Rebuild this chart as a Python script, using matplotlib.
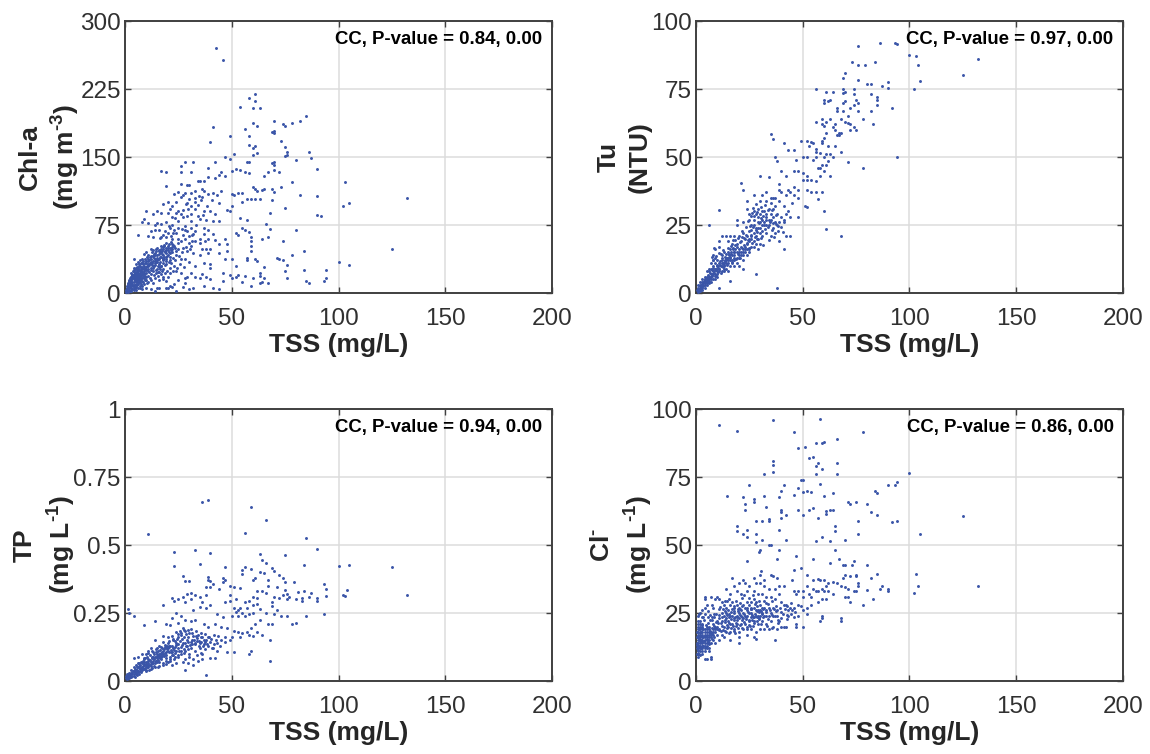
import matplotlib
matplotlib.use("Agg")
import matplotlib.pyplot as plt

plt.rcParams["font.family"] = ["Liberation Sans", "DejaVu Sans"]
plt.rcParams["mathtext.fontset"] = "custom"
plt.rcParams["mathtext.rm"] = "Liberation Sans:bold"
plt.rcParams["mathtext.default"] = "rm"

x_ticks = [0, 50, 100, 150, 200]

chl_ticks = [0, 75, 150, 225, 300]
chl_points = [
    (42.5,270),(46,257),(61,220),(58,215),(61,212),(54,205),(60,204),(63,204),(85,195),(70,190),(82,190),(78,187),
    (74,186),(75,184),(60,188),(62,184),(56,181),(41,183),(69,178),(70,179),(70,176),(49,173),(58,173),(73,168),
    (40,167),(58,163),(60,160),(61,162),(75,161),(86,156),(76,156),(76,152),(75,151),(62,154),(60,152),(51,153),
    (47,150),(49,148),(87,149),(80,147),(70,144),(69,143),(70,141),(57,145),(58,145),(42,144),(32,144),(28,145),
    (26,140),(39,138),(90,137),(52,137),(50,135),(54,136),(56,133),(58,132),(70,136),(72,133),(67,133),(65,129),
    (26,134),(31,134),(17,135),(19,134),(45,133),(47,129),(44,130),(42,127),(39,128),(37,124),(35,124),(34,123),
    (30,119),(29,119),(19,118),(26,120),(103,122),(78,122),(73,117),(69,115),(64,114),(61,115),(60,117),(62,113),
    (65,115),(70,111),(53,110),(55,110),(51,108),(50,109),(57,104),(59,104),(61,104),(63,104),(82,108),(90,107),
    (69,103),(132,105),(105,99),(102,96),(75,94),(90,86),(92,85),(80,70),(68,88),(84,46),(125,48),(100,34),(105,31),
    (94,25),(84,25),(93,13),(94,16),(85,13),(86,11),(78,42),(74,57),(71,39),(72,37),(74,36),(76,31),(75,24),(76,17),
    (68,71),(66,76),(67,62),(64,60),(58,67),(59,62),(59,57),(59,52),(59,46),(61,38),(62,35),(57,39),(57,36),(65,29),
    (63,22),(63,19),(64,12),(63,11),(65,16),(67,11),(59,8),(60,17),(52,18),(52,30),(50,38),(48,54),(48,46),(47,60),
    (52,66),(53,64),(55,72),(56,70),(57,81),(54,83),(49,91),(48,92),(55,100),(50,96),(44,99),(45,112),(43,108),
    (41,110),(39,109),(37,112),(36,106),(36,115),(33,105),(33,113),(31,110),(30,104),(28,110),(27,108),(26,106),
    (25,111),(24,100),(23,109),(22,96),(20,100),(21,93),(18,98),(34,97),(33,93),(31,96),(29,99),(27,92),(25,90),
    (24,88),(22,84),(20,88),(17,88),(15,90),(13,87),(10,90),(9,82),(11,77),(8,78),(6,64),(15,77),(14,75),(17,76),
    (16,70),(14,69),(12,68),(13,62),(11,63),(19,78),(22,75),(25,79),(27,84),(29,85),(31,87),(34,85),(35,82),(37,91),
    (40,91),(42,87),(38,80),(41,79),(44,79),(37,72),(39,70),(41,65),(39,60),(37,65),(35,60),(33,68),(32,65),(31,72),
    (28,74),(29,68),(27,64),(25,72),(24,66),(23,70),(21,72),(20,66),(19,62),(18,64),(17,62),(22,60),(25,60),(28,60),
    (30,55),(31,52),(33,57),(35,55),(36,48),(38,49),(40,48),(42,58),(44,54),(47,38),(44,44),(39,44),(35,42),(32,44),
    (29,46),(27,50),(25,48),(23,52),(22,54),(21,50),(20,52),(19,50),(18,48),(17,52),(16,47),(15,50),(14,44),(13,47),
    (12,48),(11,42),(10,45),(9,43),(8,38),(20,47),(21,44),(22,45),(19,44),(18,42),(17,40),(16,43),(15,39),(14,38),
    (13,41),(12,37),(11,35),(10,33),(9,30),(8,33),(7,30),(6,28),(5,26),(4,38),(5,32),(6,34),(7,36),(24,42),(26,38),
    (28,37),(30,34),(33,30),(37,33),(40,32),(40,28),(38,18),(40,15),(33,18),(35,16),(36,21),(31,22),(29,18),(28,16),
    (26,22),(24,24),(25,14),(23,10),(21,8),(20,5),(22,7),(19,6),(27,7),(28,11),(30,4),(32,6),(37,8),(41,6),(44,4),
    (46,13),(46,22),(49,20),(50,17),(53,20),(55,12),(56,19),(23,30),(21,28),(19,32),(18,26),(17,30),(16,23),(15,27),
    (14,31),(13,24),(12,28),(11,26),(10,22),(9,24),(8,21),(7,19),(6,22),(16,14),(14,16),(13,11),(12,14),(11,12),
    (10,14),(9,10),(8,8),(7,12),(6,10),(5,7),(4,9),(15,6),(14,2),(12,4),(18,15),(20,18),(19,13),(24,2),(16,6),
    (1,2),(1,5),(1,8),(2,3),(2,6),(2,10),(2,14),(3,2),(3,5),(3,8),(3,11),(3,14),(3,18),(3,22),(4,3),(4,6),(4,12),(4,15),
    (4,18),(4,21),(4,24),(4,28),(5,3),(5,10),(5,13),(5,16),(5,19),(5,22),(6,5),(6,14),(6,17),(6,20),(6,25),(7,6),(7,15),
    (7,22),(7,25),(8,4),(8,13),(8,16),(8,26),(8,29),(9,17),(9,21),(9,27),(10,6),(10,18),(10,27),(11,19),(11,30),(12,21),
    (12,33),(13,30),(13,35),(14,35),(15,34),(16,37),(17,45),(18,37),(19,40),(20,42),(22,48),(0.5,1),(0.5,3),(1.5,1),
    (1.5,4),(1.5,7),(1.5,11),(2.5,2),(2.5,8),(2.5,12),(2.5,16),(3.5,4),(3.5,10),(3.5,16),(3.5,20),(4.5,5),(4.5,14),
    (4.5,20),(5.5,12),(5.5,18),(5.5,24),(6.5,16),(6.5,21),(7.5,17),(7.5,24),
]
chl_core = [
    (18.4,53.2),(19.3,55.7),(20.6,54.1),(21.4,56.3),(22.7,52.6),(17.6,50.4),(18.9,46.7),(20.2,49.3),(21.7,47.8),(23.4,49.1),
    (16.3,45.2),(17.2,42.6),(18.6,44.8),(19.7,41.3),(20.9,39.7),(15.2,41.8),(14.3,46.1),(13.4,43.2),(12.6,44.7),(11.7,39.4),
    (10.8,37.6),(9.6,35.8),(12.2,34.6),(13.7,38.3),(14.8,36.7),(16.6,34.2),(17.9,36.1),(19.2,35.4),(21.1,36.8),(22.6,38.7),
    (8.4,31.7),(9.3,32.8),(10.4,29.6),(11.3,31.4),(12.7,30.9),(13.9,32.7),(15.6,30.3),(6.7,29.4),(7.3,27.2),(8.8,28.1),
    (5.2,27.6),(5.7,29.2),(6.3,26.3),(7.8,23.4),(6.8,24.1),(5.4,23.3),(4.3,25.7),(3.7,23.8),(4.8,22.3),(6.2,21.3),
    (3.2,19.6),(4.2,19.2),(5.3,20.4),(2.8,17.7),(3.6,17.4),(4.6,17.2),(5.8,15.2),(6.6,18.6),(7.2,14.1),(7.7,20.3),
    (8.3,18.4),(8.7,22.6),(9.4,19.3),(9.8,25.4),(10.6,24.3),(11.4,22.8),(12.4,25.6),(13.2,27.3),(14.6,25.8),(15.7,28.7),
    (1.2,3.4),(1.7,5.6),(2.2,7.8),(2.7,9.7),(3.3,12.6),(1.3,9.4),(2.3,11.7),(0.8,4.6),(1.8,12.8),(2.9,15.3),
    (3.8,7.4),(4.7,8.6),(5.6,8.4),(6.4,12.3),(7.4,10.4),(6.9,8.2),(8.2,11.6),(9.2,14.7),(10.2,11.2),(11.6,16.4),
    (15.3,18.7),(16.8,20.6),(17.7,17.4),(18.8,22.3),(19.6,24.7),(21.3,21.8),(22.4,24.6),(24.3,27.4),(25.7,31.6),(27.4,28.3),
    (23.6,36.4),(25.3,41.2),(26.8,44.7),(28.6,50.3),(30.4,48.6),(24.7,55.3),(26.2,57.4),(21.6,62.7),(18.7,68.4),(16.4,60.2),
    (23.2,82.6),(26.4,87.3),(29.3,92.4),(32.6,100.7),(34.7,107.3),(38.3,96.2),(30.7,79.6),(28.2,69.3),(33.4,74.8),(36.3,86.4),
    (31.4,57.7),(30.2,62.6),(31.6,64.4),(26.6,70.7),(22.3,66.4),(20.4,73.6),(28.7,98.3),(35.4,102.6),(40.6,102.3),(37.6,57.6),
    (14.4,48.6),(15.7,46.3),(16.7,48.7),(17.3,46.4),(18.2,51.4),(19.4,47.6),(20.8,45.6),(22.2,50.4),(23.7,46.3),(13.3,40.4),
    (14.2,41.4),(15.4,37.6),(16.2,39.6),(17.7,38.4),(18.3,39.7),(19.4,37.4),(20.4,34.4),(21.7,33.6),(10.2,39.4),(11.2,36.7),
    (12.3,40.6),(9.2,37.4),(8.6,35.4),(7.7,33.4),(6.6,31.7),(9.7,28.3),(10.8,31.7),(11.8,33.2),(12.8,32.6),(13.6,29.4),
    (14.7,33.7),(15.8,32.4),(16.8,29.6),(17.6,32.6),(18.6,30.4),(13.7,19.6),(14.3,22.6),(15.6,23.7),(16.4,26.6),(17.4,24.4),
]

tu_ticks = [0, 25, 50, 75, 100]
tu_points = [
    (76,91),(86,92),(93,92),(94,91.5),(100,87.5),(103,87),(132,86),(73,85),(76,84),(79,84),(84,85),(104,84),(70,81),
    (69,79),(76,78.5),(105,78),(80,77),(82,77),(90,77.5),(87,76),(90,75.5),(125,80),(102,75),(56,75),(61,74),(64,74),
    (69,75),(74,75),(70,74),(69,73.5),(74,73),(82,73),(85,72),(85,71),(85,69),(75,71),(76,70),(70,70.5),(69,70),(60,71),
    (60,70),(63,71),(62,70.5),(74,69),(92,68),(66,68),(66,67),(72,68),(69,67),(76,67),(82,67),(71,65),(68,64),(59,64),
    (63,64),(83,62),(78,64),(56,63),(59,62),(61,63),(60,61.5),(64,61),(65,62),(70,63),(71,62.5),(72,62),(74,61),(75,60),
    (72,60),(65,60),(67,59),(68,59),(67,58),(66,58),(35,58.5),(36,56.5),(61,59),(60,57),(49,56),(52,56),(54,55.5),(55,55),
    (59,56),(62,54),(65,54),(59,55),(41,55),(53,54),(56,53),(46,52.5),(43,52.5),(56,52),(58,51.5),(61,51),(63,51),(94,50),
    (37,50),(38,48.5),(47,49),(50,50),(52,50),(55,49),(56,50),(60,50),(62,48.5),(64,50),(68,52),(71,48),(78,46),(40,45),
    (46,45),(48,45),(50,44),(52,43),(57,46),(58,46),(59,47),(61,47),(60,45),(63,43),(58,43),(50,41.5),(52,41.5),(54,41.5),
    (56,41),(21,40.5),(22,38),(36,35),(30,43),(34,42.5),(42,43),(39,40),(39,38),(43,38),(46,39),(48,38),(52,38),(54,37),
    (56,37),(59,37),(57,34.5),(51,32),(52,31.5),(60,30),(61,23.5),(68,21),(38,2),(28,7),(11,30.5),(6,25),(27,36),(31,36),
    (33,37),(35,35),(37,35),(40,37),(42,36),(44,37),(46,36),(48,35),(45,33),(43,30),(41,32),(39,34),(37,32),(35,33),(33,34),
    (30,34),(29,31),(24,34),(24,31),(25,29),(27,30),(28,29),(30,29),(32,30),(34,31),(36,31),(38,29),(40,28),(42,29),(44,28),
    (48,28),(19,27),(19,25),(22,26),(25,27),(26,25),(27,27),(29,26),(31,27),(33,28),(35,27),(37,26),(39,26),(41,26),(26,23),
    (28,24),(30,24),(32,25),(34,25),(36,24),(38,25),(28,21),(29,20),(31,21),(33,22),(35,21),(37,22),(44,21),(42,21),(39,19),
    (41,16),(25,19),(26,20),(27,19),(28,18),(30,18),(22,22),(21,19),(23,20),(24,21),(20,21),(18,21),(16,21),(14,21),(12,21),
    (11,19),(11,17),(9,16),(8,14),(9,13),(8,12),(15,19),(17,18),(19,18),(21,17),(23,16),(25,16),(27,17),(29,16),(24,14),(22,15),
    (20,15),(18,15),(16,16),(15,15),(13,15),(12,14),(14,13),(16,13),(18,13),(20,13),(22,12),(19,11),(17,11),(15,11),(13,10),
    (12,12),(11,11),(10,10),(9,9),(8,8),(10,12),(9,11),(7,9),(8,10),(6,8),(7,7),(6,6),(5,6),(5,5),(4,5),(4,4),(3,4),(3,3),(2,3),
    (2,2),(1,2),(1,1),(1,0.5),(2,1),(3,2),(4,3),(5,4),(6,5),(7,6),(8,7),(9,7),(10,8),(11,9),(12,10),(13,11),(14,11),(15,12),(16,12),
    (17,14),(18,14),(19,15),(20,16),(21,14),(22,16),(23,15),(24,16),(25,15),(26,17),(11,8),(10,6),(13,8),(14,9),(15,8),(16,10),
    (18,10),(20,10),(22,9),(16,4.5),(11,2),(1.5,1),(2.5,2),(3.5,3),(4.5,4),(5.5,5),(6.5,6),(7.5,7),(8.5,8),(9.5,9),(10.5,10),
    (11.5,10),(12.5,11),(13.5,12),(14.5,13),(15.5,14),(16.5,15),(17.5,16),(18.5,16),(0.5,1),(1,3),(2,4),(3,5),(4,6),(5,8),(6,9),
    (7,11),(8,12),(2,0.8),(3,1),(4,2),(5,3),(6,3.5),(7,4),(8,5),(9,5),(10,7),(12,8),(13,9),(14,12),(15,13),(17,12),(18,12),(19,13),
    (20,14),(21,15),(22,14),(23,17),(24,18),(25,20),(26,21),(27,22),(28,23),(29,24),(30,22),(31,25),(32,26),(33,25),(34,27),(35,29),
    (36,28),(30,26),(27,25),(29,28),(31,30),(33,29),
]
tu_core = [
    (26.3,29.4),(27.4,28.2),(28.7,29.7),(30.3,27.6),(29.4,25.8),(31.6,28.3),(32.8,26.7),(33.6,24.3),(34.7,26.2),(36.2,25.7),
    (37.4,25.3),(38.6,24.6),(35.4,23.2),(32.4,23.4),(30.7,22.8),(28.4,22.3),(26.7,24.2),(25.4,24.6),(24.6,22.7),(23.4,21.4),
    (22.6,20.3),(21.4,20.7),(20.4,18.7),(19.4,16.8),(18.4,17.6),(17.4,16.6),(16.4,14.4),(15.4,14.2),(14.4,12.6),(13.4,13.2),
    (12.4,12.7),(11.4,11.8),(10.4,9.3),(9.4,8.6),(8.4,7.4),(7.4,6.4),(6.4,5.4),(5.4,4.6),(4.4,3.6),(3.4,2.6),(2.4,1.4),(1.4,0.9),
    (24.4,19.6),(25.7,21.4),(26.4,18.4),(27.6,20.6),(28.8,19.7),(30.6,20.4),(21.6,16.4),(22.4,17.6),(23.7,18.4),(24.8,16.7),
    (18.7,12.6),(19.6,14.4),(20.7,12.7),(17.6,14.9),(16.7,11.4),(15.8,13.4),(14.7,10.4),(13.7,11.8),(12.7,9.6),(11.7,7.4),
    (10.7,8.7),(9.7,10.3),(8.7,6.3),(7.7,8.4),(6.7,7.3),(5.7,6.6),(4.7,5.4),(3.7,4.4),(2.7,3.3),(1.7,2.4),(0.8,0.7),(1.2,1.6),
    (2.2,2.6),(3.2,3.7),(4.2,4.6),(5.2,3.8),(6.2,4.4),(7.2,5.3),(8.2,9.2),(9.2,6.4),(10.2,7.6),(11.2,10.4),(12.2,11.2),(13.2,10.2),
    (14.2,14.4),(15.2,16.7),(16.2,17.4),(17.2,19.4),(18.2,19.6),(19.7,20.3),(21.7,22.8),(23.2,24.4),(24.3,26.6),(25.6,28.4),
    (26.8,31.3),(28.3,32.6),(30.4,31.7),(32.4,32.3),(33.8,30.6),(35.7,30.4),(37.7,28.7),(39.6,24.3),(41.4,26.7),(40.7,22.4),
    (38.4,22.7),(36.4,20.6),(34.3,19.6),(31.4,17.8),(9.4,13.7),(8.6,16.4),(7.6,13.4),(10.6,14.7),(11.6,14.4),(12.6,15.8),
]

tp_ticks = [0, 0.25, 0.5, 0.75, 1]
tp_labels = ["0", "0.25", "0.5", "0.75", "1"]
tp_points = [
    (39,0.667),(36,0.657),(59,0.638),(66,0.592),(11,0.542),(56,0.543),(85,0.525),(90,0.485),(33,0.48),(23,0.476),(40,0.47),
    (63,0.467),(75,0.465),(64,0.445),(66,0.435),(35,0.43),(84,0.428),(23,0.424),(47,0.42),(100,0.422),(105,0.426),(125,0.418),
    (56,0.418),(55,0.41),(59,0.412),(69,0.415),(70,0.405),(63,0.4),(65,0.398),(72,0.39),(55,0.395),(27,0.387),(39,0.383),(39,0.37),
    (40,0.368),(46,0.38),(47,0.372),(46,0.365),(61,0.38),(60,0.37),(67,0.37),(74,0.378),(75,0.365),(79,0.365),(28,0.367),(30,0.368),
    (93,0.358),(41,0.358),(49,0.35),(51,0.345),(54,0.342),(67,0.35),(71,0.345),(44,0.34),(38,0.345),(40,0.345),(94,0.338),(75,0.335),
    (81,0.327),(84,0.332),(87,0.325),(104,0.336),(102,0.318),(103,0.314),(132,0.317),(94,0.314),(29,0.32),(31,0.325),(33,0.315),(35,0.31),
    (38,0.315),(49,0.315),(62,0.33),(64,0.33),(66,0.325),(70,0.31),(74,0.315),(76,0.32),(77,0.31),(86,0.31),(90,0.305),(90,0.295),
    (83,0.305),(83,0.295),(80,0.3),(76,0.3),(72,0.305),(69,0.29),(60,0.31),(62,0.305),(56,0.29),(58,0.295),(52,0.3),(49,0.295),(47,0.29),
    (18,0.278),(23,0.295),(22,0.305),(25,0.3),(27,0.31),(28,0.29),(31,0.3),(36,0.29),(40,0.28),(35,0.272),(38,0.27),(1.5,0.265),(2,0.25),
    (4,0.24),(24,0.25),(26,0.24),(32,0.26),(43,0.245),(46,0.235),(51,0.27),(53,0.26),(54,0.27),(52,0.255),(55,0.25),(57,0.27),(60,0.28),
    (62,0.285),(63,0.265),(66,0.25),(60,0.25),(58,0.245),(56,0.24),(53,0.24),(50,0.24),(69,0.275),(71,0.26),(70,0.245),(73,0.24),(76,0.238),
    (80,0.215),(78,0.21),(85,0.24),(93,0.245),(22,0.23),(19,0.21),(14,0.22),(9,0.205),(21,0.205),(25,0.215),(28,0.225),(31,0.22),(33,0.225),
    (37,0.21),(39,0.2),(42,0.21),(45,0.2),(48,0.195),(51,0.185),(53,0.18),(55,0.175),(57,0.18),(59,0.195),(61,0.21),(63,0.225),(67,0.21),(69,0.21),
    (62,0.18),(64,0.17),(60,0.165),(58,0.17),(54,0.16),(50,0.16),(49,0.15),(47,0.16),(45,0.15),(68,0.15),(43,0.14),(40,0.145),(38,0.15),(36,0.16),
    (34,0.17),(32,0.165),(30,0.175),(28,0.185),(27,0.195),(26,0.175),(24,0.18),(22,0.165),(20,0.16),(18,0.165),(25,0.16),(29,0.15),(31,0.145),
    (33,0.135),(35,0.14),(37,0.135),(39,0.13),(41,0.12),(43,0.11),(48,0.105),(51,0.105),(59,0.11),(58,0.1),(68,0.075),(38,0.022),(28,0.04),(32,0.06),
    (34,0.075),(36,0.08),(40,0.085),(42,0.085),(30,0.09),(28,0.11),(26,0.125),(24,0.14),(22,0.13),(20,0.14),(18,0.145),(16,0.13),(14,0.15),(15,0.12),
    (12,0.12),(11,0.11),(10,0.1),(8,0.1),(4,0.085),(6,0.09),(9,0.08),(13,0.105),(14,0.09),(16,0.1),(18,0.11),(20,0.12),(22,0.105),(24,0.11),(26,0.1),
    (23,0.08),(21,0.09),(19,0.085),(17,0.09),(15,0.085),(13,0.075),(11,0.08),(10,0.07),(12,0.07),(14,0.065),(16,0.07),(18,0.065),(20,0.07),(22,0.06),
    (24,0.065),(27,0.07),(16,0.055),(14,0.05),(12,0.055),(10,0.055),(9,0.06),(8,0.065),(7,0.06),(6,0.065),(5,0.06),(4,0.05),(6,0.05),(7,0.045),(8,0.05),
    (9,0.045),(10,0.04),(11,0.05),(12,0.045),(5,0.04),(4,0.035),(3,0.04),(2,0.03),(3,0.025),(2,0.02),(1,0.015),(1,0.025),(4,0.025),(5,0.03),(6,0.035),
    (7,0.035),(8,0.04),(1,0.01),(2,0.012),(3,0.015),(0.5,0.01),(0.5,0.02),(1.5,0.02),(2.5,0.025),(3.5,0.03),(4.5,0.045),(5.5,0.05),(6.5,0.055),(7.5,0.07),
    (8.5,0.075),(9.5,0.085),(10.5,0.09),(11.5,0.095),(12.5,0.09),(13.5,0.1),(14.5,0.105),(15.5,0.11),(16.5,0.115),(17.5,0.12),(18.5,0.125),(19.5,0.13),
    (20.5,0.105),(21.5,0.115),(22.5,0.12),(23.5,0.125),(25,0.135),(27,0.14),(29,0.13),(31,0.12),(33,0.11),(35,0.12),(36,0.1),(25,0.09),(28,0.08),(30,0.1),
    (19,0.095),(17,0.1),(15,0.1),(13,0.09),(11,0.065),(9,0.07),(15,0.07),(17,0.08),(19,0.075),(21,0.08),(8.5,0.055),(10.5,0.06),(12.5,0.065),(14.5,0.075),
]
tp_core = [
    (27.4,0.187),(26.3,0.168),(25.6,0.183),(24.3,0.155),(23.2,0.147),(22.4,0.152),(21.3,0.128),(20.3,0.112),(19.3,0.106),(18.3,0.093),
    (17.3,0.092),(16.3,0.084),(15.3,0.077),(14.3,0.072),(13.3,0.067),(12.3,0.061),(11.3,0.058),(10.3,0.052),(9.3,0.049),(8.3,0.044),
    (7.3,0.04),(6.3,0.032),(5.3,0.027),(4.3,0.02),(3.3,0.018),(2.3,0.014),(1.3,0.012),(0.8,0.006),(1.8,0.026),(2.8,0.03),(3.8,0.037),
    (4.8,0.033),(5.8,0.042),(6.8,0.047),(7.8,0.053),(8.8,0.062),(9.8,0.064),(10.8,0.072),(11.8,0.077),(12.8,0.083),(13.8,0.082),(14.8,0.093),
    (15.8,0.088),(16.8,0.104),(17.8,0.098),(18.8,0.102),(19.8,0.118),(20.8,0.124),(21.8,0.097),(22.8,0.113),(23.8,0.132),(24.8,0.12),
    (25.8,0.148),(26.8,0.156),(27.8,0.163),(28.8,0.172),(29.7,0.186),(30.8,0.192),(32.4,0.152),(33.6,0.158),(34.6,0.148),(35.7,0.143),(36.8,0.152),
    (38.4,0.137),(39.4,0.162),(37.7,0.172),(35.4,0.178),(33.4,0.183),(31.4,0.178),(29.3,0.162),(28.3,0.138),(26.4,0.112),(24.6,0.096),(23.4,0.09),
    (21.3,0.072),(19.4,0.062),(17.6,0.058),(15.6,0.052),(13.7,0.055),(12.6,0.048),(11.4,0.042),(9.6,0.038),(7.7,0.032),(6.6,0.027),(5.6,0.021),
    (4.6,0.016),(6.7,0.068),(8.7,0.086),(10.7,0.104),(12.7,0.11),(14.7,0.118),(16.7,0.124),(18.7,0.134),(20.7,0.148),(22.7,0.156),(24.7,0.172),
    (29.6,0.068),(31.7,0.082),(33.7,0.097),(35.6,0.104),(37.7,0.118),(40.6,0.122),(44.3,0.128),(46.7,0.142),(43.4,0.166),(41.6,0.168),
    (15.4,0.094),(16.4,0.092),(17.4,0.107),(18.4,0.118),(19.4,0.124),(20.4,0.13),(21.4,0.108),(22.4,0.094),(23.6,0.104),(25.4,0.112),
    (26.6,0.134),(27.6,0.118),(28.6,0.127),(29.6,0.144),(30.6,0.132),(31.6,0.152),(32.6,0.14),(33.7,0.148),(34.7,0.13),(36.4,0.13),
    (37.4,0.145),(38.7,0.16),(40.4,0.154),(41.7,0.135),(42.7,0.152),(35.4,0.16),(33.4,0.165),(31.4,0.135),(29.7,0.118),(27.4,0.102),
]

cl_ticks = [0, 25, 50, 75, 100]
cl_points = [
    (58,96.5),(36,96),(11,94),(19,92),(46,91.5),(78,91.5),(66,89),(60,88),(59,87.5),(56,87.5),(51,86),(48,85.5),(53,82),(55,82.5),(36,81),(36,79.5),
    (57,80),(66,80),(56,79),(59,78),(36,77),(56,76),(32,76),(66,76),(100,76.5),(49,74),(50,74),(94,73),(93,72),(90,72),(58,72.5),(25,72),(41,72),
    (48,71),(40,70),(84,70),(85,69),(50,69.5),(52,70),(54,69.5),(46,68.5),(64,69),(60,68),(14.5,68),(22,67.5),(27,67),(27,66),(32,68),(39,67.5),
    (71,66),(75,66),(72,65),(80,65),(23,65),(33,64),(53,63),(55,63.5),(48,63),(40,63),(40,62),(23,63),(63,63),(64,63),(61,62.5),(61,61.5),(82,62),
    (85,61),(50,61),(42,61),(40,60),(34,59.5),(34,59),(57,60),(125,60.5),(94,59),(92,58.5),(28,59),(31,59),(76,59),(65,57),(65,55),(39,55.5),(19,55),
    (19,57),(24,55.5),(22,54),(24,53),(28,54),(76,54),(105,54),(59,53),(31,52),(70,52),(42,52),(56,51.5),(63,51.5),(28,51),(35,50),(34,50),(30,48),
    (29.5,47.5),(39,48),(65,48),(47,46),(38,45),(55,45),(67,45),(24,44),(74,44),(63,43.5),(69,42.5),(70,42.5),(73,42.5),(80,42.5),(49,41.5),(46,41),
    (30.5,40.5),(103,39.5),(85,39.5),(35,39),(36,38.5),(38,38),(52,39),(70,39),(75,39),(75,38.5),(72,38.5),(82,38),(69,38),(17,38),(22,37),(27,38),
    (30,39),(32,37),(45,37),(55,37),(57,37.5),(58,37),(60,37),(64,36.5),(66,36),(76,36),(76,35),(87,35),(86,34),(90,34),(90,33),(104,35),(132,35),(102,32.5),
    (80,33.5),(75,33),(74,33),(71,34),(70,34.5),(68,35),(62,36),(61,35),(59,34),(57,33),(55,34),(52,35),(50,33),(48,33),(46,33),(47,32),(50,31),(53,32),
    (54,31),(56,33),(60,33),(62,33),(64,32),(70,31),(71,31),(72,29),(83,30),(78,28),(61,30),(59,30),(57,29),(54,28),(52,27),(50,26),(48,28),(46,27),(44,27),
    (42,28),(40,29),(41,35),(39,35),(37,34),(34,34),(32,35),(30,36),(28,36),(25,35),(23,36),(20,36),(18,35),(14,34),(16,32),(19,33),(21,32),(24,33),(27,33),
    (29,32),(31,32),(33,31),(35,31),(37,30),(39,32),(41,28),(43,26),(45,26),(43,24),(46,23.5),(48,24),(52,24.5),(59,24),(59,23),(58,22),(68,23),(68,22),
    (47,21),(47,20),(50,20),(42,20),(41,20),(40,20),(38,19),(37,15),(39,22),(40,23),(38,24),(36,24),(34,24),(32,24),(30,24),(28,24),(26,25),(24,24),(22,23),
    (20,23),(18,23),(16,24),(14,23),(12,22),(10,22),(8,21),(6,20),(5,20),(4,19),(3,19),(2,19),(1,18),(2,25),(1,24),(3,26),(4,27),(5,28),(4,30),(4,31),(7,31),
    (7.5,28),(8,27),(9,30),(10,31),(11,30),(12,29),(13,28),(14,27),(15,26),(16,28),(17,29),(18,27),(19,28),(20,27),(21,26),(22,28),(23,27),(24,29),(25,28),(26,29),
    (27,30),(28,29),(30,28),(32,27),(34,27),(36,27),(38,26),(29,26),(31,25),(33,26),(35,25),(37,24),(27,22),(29,21),(31,22),(33,21),(35,22),(36,20),(34,19),
    (32,19),(30,19),(28,18),(26,19),(24,19),(22,19),(20,18),(18,19),(16,18),(14,18),(12,17),(10,17),(8,15),(9,18),(11,19),(13,20),(15,20),(17,21),(19,21),(21,21),
    (23,21),(25,22),(27,16),(28,15.5),(24,17),(20,16),(20,14),(16,15),(13,16),(11,15),(9,14),(7,14),(6,12),(5,8),(4,8),(7,8),(7,9),(6,11),(5,12),(4,11),(3,10),
    (2,9.5),(1,9),(1,10),(1,11),(1,12),(1,13),(1,14),(1,15),(1,16),(1,17),(1,19),(1,20),(1,21),(1,22),(2,11),(2,12),(2,13),(2,14),(2,15),(2,16),(2,17),(2,18),(2,20),
    (2,21),(2,22),(3,11),(3,12),(3,13),(3,14),(3,15),(3,16),(3,17),(3,18),(3,20),(3,21),(4,12),(4,13),(4,14),(4,15),(4,16),(4,17),(4,18),(5,13),(5,14),(5,15),(5,16),
    (5,17),(5,18),(5,19),(6,14),(6,15),(6,16),(6,17),(6,18),(6,19),(7,16),(7,17),(7,18),(8,17),(8,18),(8,19),(9,19),(9,20),(10,19),(10,20),(0.5,10),(0.5,12),(0.5,14),
    (0.5,16),(0.5,18),(1.5,10),(1.5,13),(1.5,16),(1.5,19),(2.5,12),(2.5,15),(2.5,18),(3.5,13),(3.5,16),(3.5,19),(11,23),(12,25),(13,24),(14,25),(15,22),(16,21),(17,24),
    (18,25),(19,24),(20,25),(21,24),(22,25),(23,24),(24,26),(25,25),(26,27),(27,27),(28,26),(29,24),(30,26),(31,27),(33,24),
]
cl_core = [
    (24.3,25.2),(25.6,23.7),(26.4,22.6),(27.6,24.8),(28.4,25.6),(29.6,23.2),(30.7,24.6),(31.6,23.7),(32.7,25.4),(33.6,22.8),(34.6,26.2),(35.7,24.3),
    (36.6,26.3),(37.7,25.8),(38.6,22.4),(39.6,25.2),(40.6,24.7),(41.6,26.4),(42.7,22.7),(44.4,24.6),(18.6,21.4),(19.4,22.6),(20.6,20.7),(21.4,22.4),
    (22.4,21.7),(23.4,22.8),(24.6,20.6),(25.4,20.4),(26.6,23.4),(27.4,21.3),(28.6,22.2),(29.4,22.7),(30.4,20.8),(31.4,26.4),(14.4,20.6),(15.4,21.4),
    (16.6,22.7),(17.4,20.3),(18.4,17.6),(13.4,21.7),(12.4,20.3),(11.6,21.4),(10.4,21.2),(9.4,19.6),(8.4,20.2),(7.4,19.4),(6.4,18.4),(5.6,21.4),
    (4.6,20.6),(3.6,22.4),(2.6,23.4),(1.6,24.6),(0.7,13.4),(1.3,12.4),(1.7,14.6),(2.3,16.4),(2.7,14.2),(3.3,12.7),(3.7,14.6),(4.3,16.6),(4.7,12.6),
    (5.3,15.4),(5.7,14.4),(6.3,13.6),(6.7,17.6),(7.3,15.3),(7.7,17.4),(8.4,16.3),(8.7,19.6),(0.8,11.3),(1.4,15.6),(1.8,17.6),(2.2,19.4),(2.8,20.6),
    (3.4,23.6),(4.4,24.6),(5.4,25.6),(6.4,24.4),(7.6,22.6),(8.6,23.4),(9.6,24.6),(10.6,26.4),(11.4,27.3),(12.6,26.4),(13.6,29.6),(14.6,29.4),(15.6,30.3),
    (16.7,26.6),(17.7,27.4),(18.7,29.6),(19.7,26.3),(20.7,28.7),(21.7,30.4),(22.7,31.6),(23.7,26.7),(24.7,30.7),(25.7,26.6),(26.7,31.6),(27.7,28.4),
    (28.7,27.4),(29.7,29.6),(31.7,29.4),(32.7,28.6),(33.7,28.4),(35.4,29.3),(37.4,27.6),(39.4,26.7),(42.4,27.4),(44.7,28.6),(46.6,25.4),(49.4,27.6),
    (10.7,24.3),(13.7,22.6),(15.7,23.4),(17.7,22.6),(19.7,19.4),(21.7,19.4),(23.7,19.7),(26.7,20.4),(33.4,20.2),(35.6,19.4),(38.4,21.2),(42.6,24.2),
    (11.6,18.4),(12.6,18.7),(13.6,18.4),(14.6,19.4),(15.6,17.6),(16.6,19.6),(17.6,18.4),(18.6,20.4),(19.4,23.6),(20.4,24.4),(21.4,23.4),(22.6,24.6),
    (23.6,23.4),(24.6,22.6),(25.6,26.4),(26.4,24.4),(27.4,23.6),(28.6,23.6),(29.6,25.4),(30.6,25.6),(12.4,23.4),(13.4,25.6),(14.4,24.4),(15.4,24.6),
    (16.4,25.4),(17.6,25.6),(18.4,23.6),(19.6,25.6),(20.4,26.4),(21.6,27.4),(9.4,21.6),(8.4,24.6),(7.4,23.4),(6.6,22.6),(5.4,23.4),(10.6,18.6),
]

panels = [
    (chl_points + chl_core, chl_ticks, [str(t) for t in chl_ticks], "Chl-a\n(mg m$^{\\text{-}3}$)", "CC, P-value = 0.84, 0.00", [0.1087, 0.6114, 0.3713, 0.3607], -0.1),
    (tu_points + tu_core, tu_ticks, [str(t) for t in tu_ticks], "Tu\n(NTU)", "CC, P-value = 0.97, 0.00", [0.6052, 0.6114, 0.3713, 0.3607], -0.105),
    (tp_points + tp_core, tp_ticks, tp_labels, "TP\n(mg L$^{\\text{-}1}$)", "CC, P-value = 0.94, 0.00", [0.1087, 0.0968, 0.3713, 0.3607], -0.11),
    (cl_points + cl_core, cl_ticks, [str(t) for t in cl_ticks], "Cl$^{\\text{-}}$\n(mg L$^{\\text{-}1}$)", "CC, P-value = 0.86, 0.00", [0.6052, 0.0968, 0.3713, 0.3607], -0.097),
]

fig = plt.figure(figsize=(11.5, 7.54), dpi=100)

for pts, y_ticks, y_labels, y_title, note, box, label_x in panels:
    ax = fig.add_axes(box)
    ax.scatter([p[0] for p in pts], [p[1] for p in pts], s=4.5, color="#3a55a8", linewidths=0, zorder=3)
    ax.set_xlim(0, 200)
    ax.set_ylim(y_ticks[0], y_ticks[-1])
    ax.set_xticks(x_ticks)
    ax.set_yticks(y_ticks)
    ax.set_yticklabels(y_labels)
    ax.grid(True, color="#dcdcdc", linewidth=1.1)
    ax.set_axisbelow(True)
    ax.tick_params(direction="in", length=4, width=1, color="#404040", labelcolor="#303030",
                   labelsize=17.5, top=True, right=True)
    ax.tick_params(axis="x", pad=11)
    ax.tick_params(axis="y", pad=3)
    for spine in ax.spines.values():
        spine.set_linewidth(1.4)
        spine.set_color("#404040")
    ax.set_xlabel("TSS (mg/L)", fontsize=19, fontweight="bold", color="#262626", labelpad=2)
    ax.set_ylabel(y_title, fontsize=19, fontweight="bold", color="#262626", linespacing=1.35)
    ax.yaxis.set_label_coords(label_x, 0.5)
    ax.text(0.978, 0.933, note, transform=ax.transAxes, ha="right", va="center",
            fontsize=13.4, fontweight="bold", color="black", zorder=5)

fig.savefig("out.png", dpi=100)
